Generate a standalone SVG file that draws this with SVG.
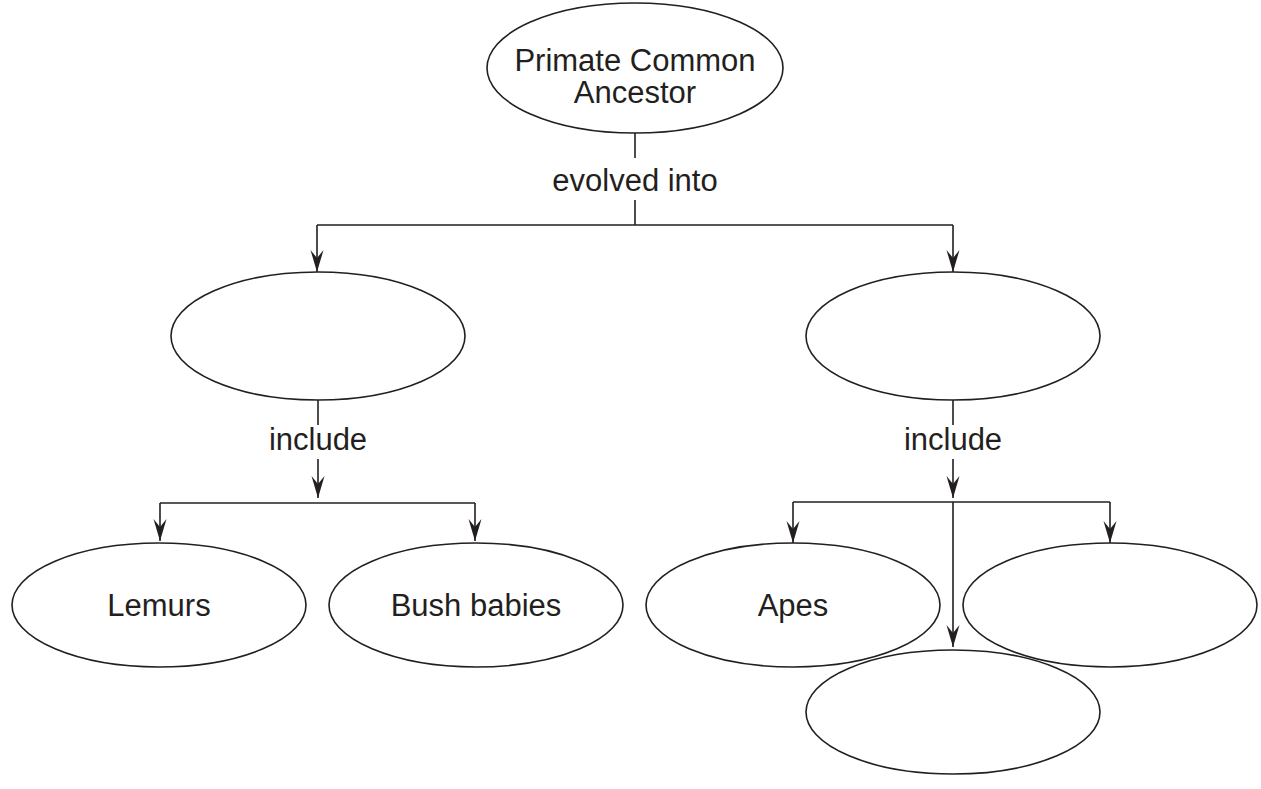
<svg xmlns="http://www.w3.org/2000/svg" width="1261" height="789" viewBox="0 0 1261 789">
<style>
.n{fill:#fff;stroke:#231f20;stroke-width:1.6}
.c{fill:none;stroke:#231f20;stroke-width:1.6}
text{font-family:"Liberation Sans",Arial,sans-serif;font-size:31px;fill:#231f20;text-anchor:middle}
</style>
<defs>
<marker id="ah" viewBox="-23 -7 24 14" markerWidth="24" markerHeight="14" refX="0" refY="0" markerUnits="userSpaceOnUse" orient="auto">
<path d="M0,0 L-22,-6.5 L-14,0 L-22,6.5 Z" fill="#231f20"/>
</marker>
</defs>
<rect width="1261" height="789" fill="#fff"/>
<g id="connectors">
<path class="c" d="M635,133 V158"/>
<path class="c" d="M635,200 V225 M317,225 H953"/>
<path class="c" d="M317,225 V272" marker-end="url(#ah)"/>
<path class="c" d="M953,225 V272" marker-end="url(#ah)"/>
<path class="c" d="M318,400 V425"/>
<path class="c" d="M318,459 V498" marker-end="url(#ah)"/>
<path class="c" d="M160,503 H475"/>
<path class="c" d="M160,503 V541" marker-end="url(#ah)"/>
<path class="c" d="M475,503 V541" marker-end="url(#ah)"/>
<path class="c" d="M953,400 V425"/>
<path class="c" d="M953,459 V498" marker-end="url(#ah)"/>
<path class="c" d="M793,502 H1110"/>
<path class="c" d="M793,502 V543" marker-end="url(#ah)"/>
<path class="c" d="M1110,502 V543" marker-end="url(#ah)"/>
<path class="c" d="M953,502 V647" marker-end="url(#ah)"/>
<text x="635" y="191">evolved into</text>
<text x="318" y="450">include</text>
<text x="953" y="450">include</text>
</g>
<g id="ancestor">
<ellipse class="n" cx="635" cy="68" rx="148" ry="65"/>
<text x="635" y="71">Primate Common</text>
<text x="635" y="103">Ancestor</text>
</g>
<g id="groupLeft"><ellipse class="n" cx="318" cy="336" rx="147" ry="64"/></g>
<g id="groupRight"><ellipse class="n" cx="953" cy="336" rx="147" ry="64"/></g>
<g id="lemurs">
<ellipse class="n" cx="159" cy="605" rx="147" ry="62"/>
<text x="159" y="616">Lemurs</text>
</g>
<g id="bushbabies">
<ellipse class="n" cx="476" cy="605" rx="147" ry="62"/>
<text x="476" y="616">Bush babies</text>
</g>
<g id="apes">
<ellipse class="n" cx="793" cy="605" rx="147" ry="62"/>
<text x="793" y="616">Apes</text>
</g>
<g id="rightLeaf"><ellipse class="n" cx="1110" cy="605" rx="147" ry="62"/></g>
<g id="bottomLeaf"><ellipse class="n" cx="953" cy="712" rx="147" ry="62"/></g>
</svg>
